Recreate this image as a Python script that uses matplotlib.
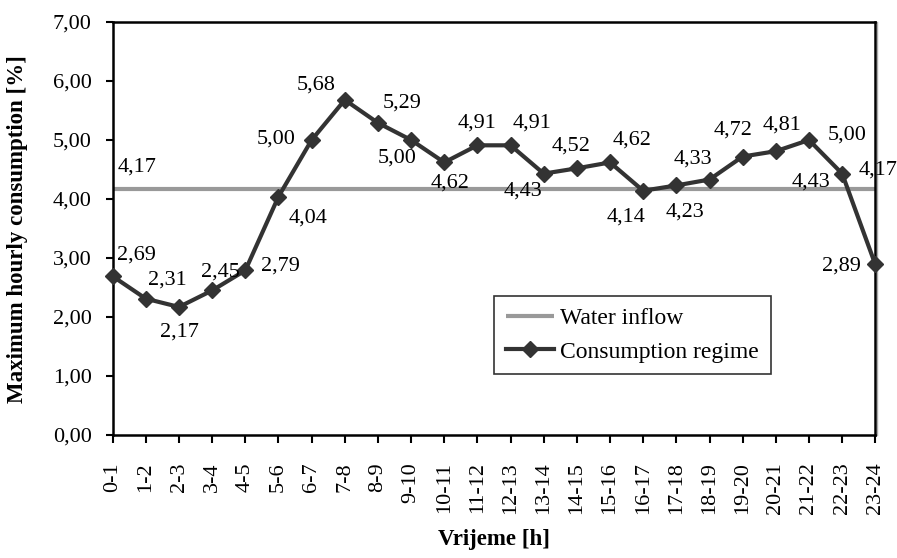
import matplotlib
matplotlib.use("Agg")
import matplotlib.pyplot as plt
from matplotlib.transforms import offset_copy

# Hourly intervals and consumption shares
hours = ["0-1", "1-2", "2-3", "3-4", "4-5", "5-6", "6-7", "7-8", "8-9", "9-10",
         "10-11", "11-12", "12-13", "13-14", "14-15", "15-16", "16-17", "17-18",
         "18-19", "19-20", "20-21", "21-22", "22-23", "23-24"]
consumption = [2.69, 2.31, 2.17, 2.45, 2.79, 4.04, 5.00, 5.68, 5.29, 5.00,
               4.62, 4.91, 4.91, 4.43, 4.52, 4.62, 4.14, 4.23, 4.33, 4.72,
               4.81, 5.00, 4.43, 2.89]
inflow_value = 4.17
inflow = [inflow_value] * len(hours)

y_ticks = [0, 1, 2, 3, 4, 5, 6, 7]

# label offsets (pixels) for each consumption value
label_offsets = [(24, 21), (22, 19), (0, -25), (8, 18), (35, 4), (30, -21),
                 (-36, 1), (-29, 15), (24, 20), (-14, -18), (6, -21), (0, 22),
                 (21, 22), (-21, -17), (-6, 22), (22, 22), (-17, -26), (9, -27),
                 (-17, 20), (-10, 26), (6, 26), (38, 5), (-31, -8), (-34, -2)]

plt.rcParams["font.family"] = ["Liberation Serif", "DejaVu Serif"]
FS = 16

fig = plt.figure(figsize=(8.97, 5.58), dpi=100)
ax = fig.add_axes([112.7 / 897, 1 - 435 / 558, (875.3 - 112.7) / 897, (435 - 22) / 558])

x = list(range(len(hours)))
ax.plot(x, inflow, color="#999999", lw=3.0, solid_capstyle="butt",
        label="Water inflow", zorder=2)
ax.plot(x, consumption, color="#333333", lw=3.0, marker="D", markersize=8.5,
        label="Consumption regime", zorder=3, clip_on=False)

fmt = lambda v: f"{v:.2f}".replace(".", ",")
for xi, v, (dx, dy) in zip(x, consumption, label_offsets):
    ax.annotate(fmt(v), (xi, v), xytext=(dx, dy), textcoords="offset pixels",
                ha="center", va="center", fontsize=FS, zorder=5,
                annotation_clip=False)
for xi, (dx, dy) in [(0, (24, 22)), (len(hours) - 1, (3, 19))]:
    ax.annotate(fmt(inflow_value), (xi, inflow_value), xytext=(dx, dy),
                textcoords="offset pixels", ha="center", va="center",
                fontsize=FS, zorder=5, annotation_clip=False)

ax.set_xlim(0, len(hours) - 1)
ax.set_ylim(0, 7)
ax.set_xticks(x)
ax.set_xticklabels(hours, rotation=90, fontsize=FS, va="top")
ax.set_yticks(y_ticks)
ax.set_yticklabels([fmt(v) for v in y_ticks], fontsize=FS)
ax.tick_params(axis="y", direction="out", length=5, width=1.5, pad=10)
ax.tick_params(axis="x", direction="out", length=5.5, width=1.5, pad=14)
for s in ax.spines.values():
    s.set_linewidth(1.8)
    s.set_color("black")

# soft shadow along the right edge of the plot frame
shadow_tr = offset_copy(ax.transAxes, fig=fig, x=2, y=0, units="dots")
ax.plot([1, 1], [0, 1], transform=shadow_tr, color="#aaaaaa", lw=1.0,
        clip_on=False, zorder=1)

fig.text(18 / 897, 1 - 229 / 558, "Maximum hourly consumption [%]", rotation=90,
         ha="center", va="center", fontsize=16.5, fontweight="bold")
fig.text(494 / 897, 1 - 540 / 558, "Vrijeme [h]", ha="center", va="center",
         fontsize=16.5, fontweight="bold")

leg = ax.legend(loc="upper left", bbox_to_anchor=(494 / 897, 1 - 296 / 558),
                bbox_transform=fig.transFigure, borderaxespad=0, fontsize=17,
                frameon=True, fancybox=False, numpoints=1, handlelength=2.05,
                handletextpad=0.25, labelspacing=0.5, borderpad=0.5)
leg.get_frame().set_edgecolor("black")
leg.get_frame().set_linewidth(1.2)

fig.savefig("out.png", dpi=100)
